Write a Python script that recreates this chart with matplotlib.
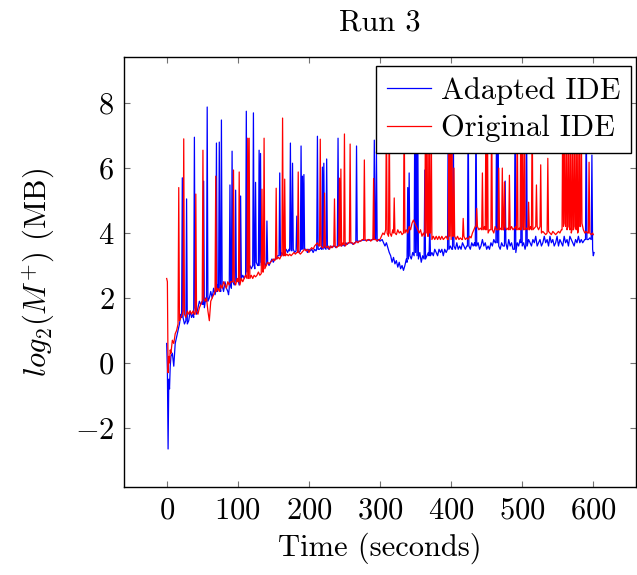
import numpy as np
import matplotlib
matplotlib.use("Agg")
import matplotlib.pyplot as plt

plt.rcParams['font.family'] = ['cmr10', 'DejaVu Serif']
plt.rcParams['mathtext.fontset'] = 'cm'
plt.rcParams['axes.formatter.use_mathtext'] = True
plt.rcParams['axes.unicode_minus'] = True

title = "Run 3"
xlabel = "Time (seconds)"
ylabel = r"$log_2(M^{+})$ (MB)"
series_names = ["Adapted IDE", "Original IDE"]
x_ticks = [0, 100, 200, 300, 400, 500, 600]
y_ticks = [-2, 0, 2, 4, 6, 8]

# (time in seconds, log2 memory)
adapted = [
    (0, 0.6), (1, -0.2), (2, -2.65), (3, -0.5), (4, -0.8), (5, -0.1), (6, 0.2), (8, 0.3),
    (10, -0.1), (12, 0.6), (14, 0.8), (16, 1.0), (18, 1.2), (20, 1.5), (21, 1.4), (22, 5.7),
    (23, 1.4), (25, 1.2), (27, 1.3), (28, 5.05), (29, 1.2), (31, 1.3), (33, 1.6), (35, 1.4),
    (37, 1.5), (38, 1.4), (39, 6.95), (40, 1.7), (42, 1.5), (44, 1.7), (46, 1.9), (48, 1.8),
    (50, 1.9), (51, 1.8), (52, 5.6), (53, 1.7), (55, 2.0), (56, 1.9), (57, 7.88), (58, 1.9),
    (60, 2.0), (62, 2.2), (64, 2.0), (66, 2.3), (68, 2.1), (69, 2.2), (70, 6.77), (71, 2.2),
    (72, 2.4), (73, 2.3), (74, 6.8), (75, 2.3), (76, 2.2), (77, 7.48), (78, 2.4), (80, 2.2),
    (82, 2.5), (84, 2.3), (86, 2.2), (87, 2.1), (88, 2.3), (89, 5.48), (90, 2.4), (91, 2.3),
    (92, 6.52), (93, 2.5), (95, 2.4), (96, 2.5), (97, 5.32), (98, 2.5), (100, 2.6), (102, 2.4),
    (103, 2.5), (104, 5.14), (105, 2.6), (107, 2.7), (109, 2.6), (111, 2.7), (112, 7.75),
    (113, 2.8), (115, 2.9), (117, 3.0), (119, 2.9), (121, 3.0), (122, 7.7), (123, 3.0),
    (124, 2.9), (125, 5.56), (126, 3.1), (128, 3.0), (129, 3.0), (130, 6.55), (131, 3.0),
    (132, 6.45), (133, 3.1), (135, 3.0), (137, 3.1), (139, 3.0), (140, 3.0), (141, 4.37),
    (142, 3.1), (144, 3.0), (146, 3.1), (148, 3.2), (150, 3.1), (152, 3.2), (154, 3.2),
    (156, 3.3), (158, 3.3), (159, 5.85), (160, 3.3), (162, 3.4), (164, 3.3), (166, 3.4),
    (168, 3.5), (170, 3.4), (172, 3.5), (173, 3.45), (174, 6.77), (175, 3.5), (176, 3.45),
    (177, 6.15), (178, 3.5), (180, 3.4), (182, 3.45), (183, 4.52), (184, 3.5), (186, 3.4),
    (188, 3.45), (189, 6.68), (190, 3.5), (191, 5.75), (192, 3.5), (193, 5.8), (194, 3.5),
    (196, 3.5), (198, 3.4), (200, 3.5), (202, 3.45), (204, 3.5), (206, 3.4), (208, 3.5),
    (210, 3.45), (211, 3.5), (212, 6.98), (213, 3.5), (215, 3.5), (217, 3.55), (218, 3.5),
    (219, 6.03), (220, 3.5), (221, 6.15), (222, 3.55), (224, 3.5), (225, 6.28), (226, 3.55),
    (228, 3.5), (230, 3.6), (232, 3.55), (234, 3.6), (236, 3.6), (238, 3.55), (240, 3.6),
    (241, 6.92), (242, 3.6), (244, 3.65), (246, 3.6), (248, 3.65), (250, 3.6), (252, 3.7),
    (254, 3.65), (256, 3.7), (258, 3.7), (260, 3.7), (262, 3.65), (264, 3.7), (266, 3.7),
    (267, 6.68), (268, 3.75), (270, 3.75), (272, 3.75), (275, 3.78), (278, 3.78), (281, 3.78),
    (284, 3.78), (287, 3.78), (290, 3.8), (291, 3.8), (292, 6.86), (293, 3.8), (294, 3.8),
    (295, 6.5), (296, 3.75), (298, 3.8), (300, 3.75), (303, 3.8), (305, 3.7), (307, 3.6),
    (309, 3.7), (311, 3.55), (313, 3.4), (315, 3.3), (317, 3.1), (319, 3.25), (321, 3.05),
    (323, 3.15), (325, 2.95), (327, 3.1), (329, 2.9), (331, 3.0), (333, 2.85), (335, 3.0),
    (337, 3.2), (338, 3.1), (339, 5.4), (340, 3.2), (341, 5.85), (342, 3.3), (344, 3.2),
    (346, 3.4), (348, 3.3), (349, 8.2), (350, 3.4), (351, 7.5), (352, 3.3), (353, 8.0),
    (354, 3.2), (356, 3.4), (358, 3.1), (360, 3.3), (362, 3.2), (363, 5.94), (364, 3.2),
    (366, 3.3), (368, 3.4), (369, 3.3), (370, 4.3), (371, 3.3), (373, 3.4), (375, 3.3),
    (377, 3.5), (379, 3.4), (381, 3.3), (383, 3.5), (385, 3.4), (387, 3.5), (389, 3.3),
    (391, 3.5), (393, 3.4), (395, 3.5), (396, 8.0), (397, 3.5), (399, 3.6), (401, 3.5),
    (402, 3.5), (403, 8.0), (404, 3.6), (406, 3.5), (408, 3.7), (410, 3.5), (412, 3.6),
    (414, 3.5), (416, 3.7), (418, 3.6), (420, 3.5), (422, 3.6), (423, 3.6), (424, 8.0),
    (425, 3.6), (427, 3.5), (429, 3.7), (431, 3.6), (433, 3.7), (434, 3.6), (435, 8.0),
    (436, 3.6), (438, 3.7), (440, 3.5), (442, 3.6), (444, 3.8), (446, 3.6), (448, 3.7),
    (450, 3.5), (452, 3.6), (454, 3.5), (456, 3.7), (458, 3.6), (460, 3.8), (462, 3.7),
    (463, 3.7), (464, 8.0), (465, 3.7), (466, 8.0), (467, 3.6), (469, 3.5), (471, 3.7),
    (473, 3.6), (475, 3.6), (476, 5.6), (477, 3.7), (479, 3.5), (481, 3.8), (483, 3.6),
    (485, 3.7), (487, 3.5), (489, 3.5), (490, 8.0), (491, 3.4), (493, 3.7), (495, 3.6),
    (497, 3.8), (498, 3.7), (499, 8.0), (500, 3.6), (502, 3.7), (504, 3.5), (505, 3.6),
    (506, 8.0), (507, 3.6), (509, 3.8), (511, 3.7), (513, 3.6), (515, 3.8), (517, 3.7),
    (519, 3.9), (521, 3.6), (523, 3.7), (525, 3.8), (527, 3.6), (529, 3.7), (531, 3.9),
    (533, 3.7), (535, 3.8), (537, 3.6), (539, 3.9), (541, 3.7), (543, 3.8), (545, 3.6),
    (547, 3.7), (549, 3.9), (551, 3.6), (553, 3.8), (555, 3.7), (557, 3.6), (559, 3.9),
    (561, 3.7), (563, 3.8), (565, 3.6), (567, 3.9), (569, 3.8), (571, 3.7), (573, 3.6),
    (575, 3.8), (577, 3.7), (579, 3.9), (581, 3.7), (583, 3.8), (585, 3.7), (588, 3.8),
    (589, 3.8), (590, 8.0), (591, 3.8), (593, 3.8), (595, 3.85), (597, 3.8), (598, 6.4),
    (599, 3.5), (600, 3.3), (601, 3.4),
]

original = [
    (0, 2.6), (1, 2.5), (2, -0.3), (3, 0.2), (4, 0.0), (5, 0.4), (6, 0.3), (8, 0.7),
    (10, 0.6), (12, 0.9), (14, 1.0), (16, 1.2), (17, 5.4), (18, 1.3), (20, 1.4), (22, 1.5),
    (23, 1.6), (24, 6.9), (25, 1.5), (27, 1.4), (29, 1.6), (31, 1.5), (33, 1.6), (35, 1.5),
    (37, 1.6), (39, 1.5), (40, 1.5), (41, 5.2), (42, 1.6), (44, 1.5), (46, 1.7), (48, 1.8),
    (50, 1.9), (51, 6.55), (52, 2.0), (54, 1.9), (56, 2.0), (58, 1.6), (60, 1.3), (62, 1.9),
    (64, 2.0), (66, 2.1), (68, 2.2), (69, 5.75), (70, 2.2), (72, 2.3), (74, 2.2), (76, 2.4),
    (78, 2.3), (80, 2.5), (82, 2.4), (84, 2.3), (86, 2.5), (88, 2.4), (90, 2.5), (93, 2.5),
    (94, 5.94), (95, 2.5), (97, 2.4), (99, 2.6), (100, 2.5), (101, 2.5), (102, 5.88),
    (103, 2.4), (105, 2.6), (107, 2.5), (109, 2.6), (111, 2.7), (113, 2.6), (114, 6.92),
    (115, 2.6), (116, 6.92), (117, 2.6), (119, 2.7), (121, 2.6), (123, 2.7), (125, 2.65),
    (127, 2.7), (129, 2.8), (131, 2.7), (133, 2.75), (134, 5.35), (135, 2.8), (136, 2.8),
    (137, 6.92), (138, 2.9), (140, 3.0), (142, 3.1), (144, 3.05), (146, 3.1), (148, 3.15),
    (150, 3.2), (152, 3.15), (153, 3.2), (154, 5.38), (155, 3.2), (157, 3.25), (159, 3.2),
    (161, 3.3), (162, 3.3), (163, 7.54), (164, 3.35), (165, 3.3), (166, 5.66), (167, 3.3),
    (169, 3.35), (171, 3.3), (173, 3.35), (175, 3.3), (177, 3.35), (179, 3.4), (181, 3.35),
    (183, 3.4), (184, 3.4), (185, 5.88), (186, 3.4), (188, 3.35), (190, 3.4), (192, 3.45),
    (194, 3.5), (196, 3.45), (198, 3.5), (200, 3.4), (202, 3.5), (204, 3.55), (206, 3.5),
    (208, 3.6), (210, 3.65), (212, 3.7), (214, 3.6), (215, 3.6), (216, 6.89), (217, 3.6),
    (219, 3.55), (221, 3.55), (222, 5.23), (223, 3.6), (225, 3.55), (227, 3.6), (229, 3.5),
    (231, 3.6), (233, 3.55), (235, 3.6), (236, 5.05), (237, 3.6), (239, 3.55), (241, 3.6),
    (242, 3.6), (243, 5.69), (244, 3.6), (245, 5.97), (246, 3.6), (248, 3.7), (249, 3.65),
    (250, 7.05), (251, 3.6), (253, 3.65), (255, 3.7), (257, 3.7), (258, 6.74), (259, 3.7),
    (261, 3.7), (263, 3.65), (265, 3.7), (267, 3.75), (269, 3.7), (271, 3.75), (273, 3.75),
    (275, 3.8), (277, 3.8), (278, 6.25), (279, 3.8), (281, 3.75), (283, 3.8), (285, 3.8),
    (287, 3.75), (289, 3.8), (290, 3.8), (291, 5.68), (292, 3.8), (294, 3.8), (296, 3.75),
    (298, 3.8), (300, 3.8), (302, 3.9), (304, 4.0), (306, 3.95), (308, 4.1), (309, 8.0),
    (310, 4.0), (312, 3.9), (313, 8.0), (314, 4.0), (316, 3.9), (318, 4.1), (319, 4.0),
    (320, 5.08), (321, 4.0), (323, 3.95), (325, 4.1), (327, 4.0), (329, 4.05), (331, 3.95),
    (333, 4.0), (334, 8.0), (335, 4.0), (337, 4.1), (339, 4.0), (341, 4.2), (343, 4.1),
    (345, 4.3), (347, 4.4), (349, 4.3), (351, 4.2), (353, 4.1), (355, 4.0), (357, 4.1),
    (359, 3.9), (361, 4.0), (363, 3.9), (364, 8.0), (365, 4.0), (366, 8.0), (367, 3.9),
    (368, 3.9), (369, 8.0), (370, 4.0), (371, 4.0), (372, 8.0), (373, 3.8), (375, 3.9),
    (377, 3.8), (379, 3.9), (381, 3.8), (383, 3.9), (385, 3.8), (387, 3.9), (389, 3.8),
    (391, 3.85), (393, 3.9), (395, 3.8), (396, 3.8), (397, 8.0), (398, 3.9), (399, 8.0),
    (400, 3.8), (401, 8.0), (402, 3.9), (403, 3.9), (404, 6.0), (405, 3.9), (407, 3.8),
    (409, 3.9), (411, 3.8), (413, 3.85), (415, 3.8), (416, 3.8), (417, 4.45), (418, 3.9),
    (420, 3.8), (422, 3.85), (424, 3.8), (426, 3.9), (428, 3.85), (430, 4.0), (432, 4.1),
    (434, 4.2), (435, 4.2), (436, 4.76), (437, 4.2), (439, 4.1), (441, 4.15), (443, 4.1),
    (444, 5.85), (445, 4.1), (447, 4.2), (448, 4.1), (449, 8.0), (450, 4.1), (451, 8.0),
    (452, 4.0), (454, 4.1), (456, 4.1), (457, 8.0), (458, 4.1), (460, 4.0), (462, 4.2),
    (464, 4.1), (466, 4.1), (467, 6.0), (468, 4.1), (470, 4.15), (471, 4.1), (472, 6.0),
    (473, 4.1), (474, 4.1), (475, 5.57), (476, 4.2), (478, 4.1), (480, 4.15), (481, 4.1),
    (482, 5.78), (483, 4.1), (485, 4.2), (487, 4.1), (489, 4.15), (491, 4.2), (492, 4.1),
    (493, 8.0), (494, 4.1), (496, 4.15), (497, 4.1), (498, 8.0), (499, 4.1), (500, 8.0),
    (501, 4.2), (502, 4.1), (503, 8.0), (504, 4.1), (506, 4.15), (508, 4.1), (509, 4.95),
    (510, 4.1), (512, 4.2), (513, 4.1), (514, 8.0), (515, 4.1), (517, 4.15), (519, 4.2),
    (520, 5.48), (521, 4.2), (523, 4.1), (525, 4.2), (526, 6.1), (527, 4.0), (529, 4.05),
    (531, 4.0), (533, 3.95), (535, 4.0), (536, 6.3), (537, 4.05), (539, 4.0), (541, 3.95),
    (543, 4.05), (545, 4.0), (547, 3.95), (549, 4.0), (551, 4.05), (553, 4.0), (555, 4.1),
    (556, 4.1), (557, 8.0), (558, 4.2), (559, 8.0), (560, 4.3), (561, 4.2), (562, 8.0),
    (563, 4.1), (564, 4.2), (565, 8.0), (566, 4.2), (567, 4.1), (568, 8.0), (569, 4.0),
    (570, 4.1), (571, 8.0), (572, 4.1), (573, 4.2), (574, 8.0), (575, 4.2), (576, 4.1),
    (577, 8.0), (578, 4.0), (579, 4.1), (580, 8.0), (581, 4.2), (582, 4.2), (583, 8.0),
    (584, 4.3), (586, 4.1), (588, 4.0), (590, 4.05), (592, 4.0), (593, 4.0), (594, 6.18),
    (595, 4.0), (597, 3.95), (599, 4.0), (600, 3.95),
]

adapted_t, adapted_y = map(np.array, zip(*adapted))
original_t, original_y = map(np.array, zip(*original))

fig = plt.figure(figsize=(6.37, 5.75), dpi=100)
ax = fig.add_axes([124 / 637, 1 - 487 / 575, (636 - 124) / 637, (487 - 57) / 575])

ax.plot(adapted_t, adapted_y, color=(0, 0, 1), lw=0.9, label=series_names[0])
ax.plot(original_t, original_y, color=(1, 0, 0), lw=0.9, label=series_names[1])

ax.set_xlim(-60, 660)
ax.set_ylim(-3.82, 9.42)
ax.set_xticks(x_ticks)
ax.set_yticks(y_ticks)

fs = 22
ax.tick_params(direction='in', length=4, width=0.8, color='0.45',
               top=True, right=True, labelsize=fs, pad=7)
for s in ax.spines.values():
    s.set_linewidth(1.0)
    s.set_color('black')

ax.set_title(title, fontsize=fs, pad=19)
ax.set_xlabel(xlabel, fontsize=fs, labelpad=6)
ax.set_ylabel(ylabel, fontsize=fs, labelpad=13)

leg = ax.legend(loc='upper right', fontsize=fs, frameon=True, fancybox=False,
                framealpha=1, edgecolor='black', handlelength=1.45,
                borderpad=0.36, labelspacing=0.32, handletextpad=0.3,
                borderaxespad=0.0, bbox_to_anchor=(631 / 637, 1 - 66 / 575),
                bbox_transform=fig.transFigure)
leg.get_frame().set_linewidth(1.0)

fig.savefig("out.png", dpi=100)
